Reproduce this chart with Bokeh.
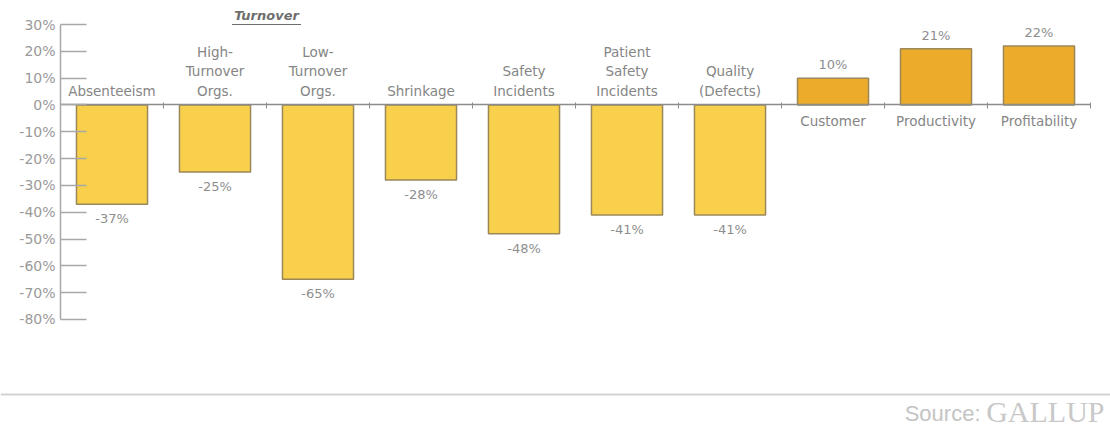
from bokeh.plotting import figure
from bokeh.models import (Range1d, FixedTicker, NumeralTickFormatter, ColumnDataSource,
                          Span, Label)
from bokeh.embed import file_html
from bokeh.resources import INLINE
from bokeh.core.properties import value

# ---- data ----
CATEGORIES = ["Absenteeism", "High-\nTurnover\nOrgs.", "Low-\nTurnover\nOrgs.", "Shrinkage",
              "Safety\nIncidents", "Patient\nSafety\nIncidents", "Quality\n(Defects)",
              "Customer", "Productivity", "Profitability"]
VALUES = [-37, -25, -65, -28, -48, -41, -41, 10, 21, 22]
VALUE_LABELS = ["-37%", "-25%", "-65%", "-28%", "-48%", "-41%", "-41%", "10%", "21%", "22%"]
Y_TICKS = [-0.8, -0.7, -0.6, -0.5, -0.4, -0.3, -0.2, -0.1, 0.0, 0.1, 0.2, 0.3]
GROUP_TITLE = "Turnover"
GROUP_MEMBERS = [1, 2]

NEG_COLOR = "#F9D04B"
POS_COLOR = "#EDAB2C"
OUTLINE = "#9A8858"
TEXT = "#858585"
FONT = "DejaVu Sans"

n = len(CATEGORIES)
xs = [i + 0.5 for i in range(n)]
vals = [v / 100 for v in VALUES]
colors = [NEG_COLOR if v < 0 else POS_COLOR for v in vals]

W, H = 1110, 432
p = figure(width=W, height=H, output_backend="svg", toolbar_location=None,
           x_range=Range1d(-0.5825, 10.194), y_range=Range1d(-1.2214, 0.3895),
           min_border=0, min_border_left=0, min_border_right=0,
           min_border_top=0, min_border_bottom=0)
p.outline_line_color = None
p.xgrid.visible = False
p.ygrid.visible = False
p.background_fill_color = "white"
p.border_fill_color = "white"

# y axis at x=0
ya = p.yaxis[0]
ya.fixed_location = 0
ya.bounds = (Y_TICKS[0], Y_TICKS[-1])
ya.ticker = FixedTicker(ticks=Y_TICKS)
ya.formatter = NumeralTickFormatter(format="0%")
ya.major_tick_in = 26
ya.major_tick_out = 0
ya.minor_tick_line_color = None
ya.axis_line_color = "#A8A8A8"
ya.axis_line_width = 1.5
ya.major_tick_line_color = "#A8A8A8"
ya.major_tick_line_width = 1.5
ya.major_label_text_font = FONT
ya.major_label_text_font_size = "14px"
ya.major_label_text_color = "#9A9A9A"
ya.major_label_standoff = 5

# x axis at y=0
xa = p.xaxis[0]
xa.fixed_location = 0
xa.bounds = (0, n)
xa.ticker = FixedTicker(ticks=list(range(n + 1)))
xa.major_label_overrides = {i: "" for i in range(n + 1)}
xa.major_tick_in = 2
xa.major_tick_out = 4
xa.minor_tick_line_color = None
xa.axis_line_color = "#8C8C8C"
xa.axis_line_width = 1.5
xa.major_tick_line_color = "#8C8C8C"
xa.major_tick_line_width = 1

src = ColumnDataSource(dict(x=xs, top=vals, color=colors, cat=CATEGORIES, lab=VALUE_LABELS))
p.vbar(x="x", top="top", bottom=0, width=0.69, source=src, fill_color="color",
       line_color=OUTLINE, line_width=1.5)

neg = [i for i in range(n) if vals[i] < 0]
pos = [i for i in range(n) if vals[i] >= 0]

neg_src = ColumnDataSource(dict(x=[xs[i] for i in neg], y=[vals[i] for i in neg],
                                cat=[CATEGORIES[i] for i in neg], lab=[VALUE_LABELS[i] for i in neg],
                                zero=[0] * len(neg)))
pos_src = ColumnDataSource(dict(x=[xs[i] for i in pos], y=[vals[i] for i in pos],
                                cat=[CATEGORIES[i] for i in pos], lab=[VALUE_LABELS[i] for i in pos],
                                zero=[0] * len(pos)))

# category labels
p.text(x="x", y="zero", text="cat", source=neg_src, text_align="center", text_baseline="bottom",
       y_offset=-6, text_font=value(FONT), text_font_size="13.5px", text_color=TEXT,
       text_line_height=1.22)
p.text(x="x", y="zero", text="cat", source=pos_src, text_align="center", text_baseline="top",
       y_offset=8, text_font=value(FONT), text_font_size="13.5px", text_color=TEXT)

# value labels
p.text(x="x", y="y", text="lab", source=neg_src, text_align="center", text_baseline="top",
       y_offset=7, text_font=value(FONT), text_font_size="13px", text_color="#8E8E8E")
p.text(x="x", y="y", text="lab", source=pos_src, text_align="center", text_baseline="bottom",
       y_offset=-6, text_font=value(FONT), text_font_size="13px", text_color="#8E8E8E")

# group title (Turnover), underlined
gx = sum(xs[i] for i in GROUP_MEMBERS) / len(GROUP_MEMBERS)
p.text(x=[gx], y=[Y_TICKS[-1]], text=[GROUP_TITLE], text_align="center", text_baseline="bottom",
       y_offset=-2, text_font=value(FONT), text_font_size="13px", text_font_style="bold italic",
       text_color="#6E6E6E")
p.segment(x0=[gx - 0.335], x1=[gx + 0.335], y0=[Y_TICKS[-1]], y1=[Y_TICKS[-1]],
          line_color="#6E6E6E", line_width=1)

# footer line and source
p.add_layout(Span(location=-1.08, dimension="width", line_color="#D2D2D2", line_width=2))
p.add_layout(Label(x=1104, y=5, x_units="screen", y_units="screen", text="GALLUP",
                   text_align="right", text_baseline="bottom", text_font="Liberation Serif",
                   text_font_size="30px", text_color="#C8C8C8"))
p.add_layout(Label(x=980, y=7, x_units="screen", y_units="screen", text="Source:",
                   text_align="right", text_baseline="bottom", text_font="Liberation Sans",
                   text_font_size="22px", text_color="#C4C4C4"))

open("out.html", "w").write(file_html(p, INLINE))
